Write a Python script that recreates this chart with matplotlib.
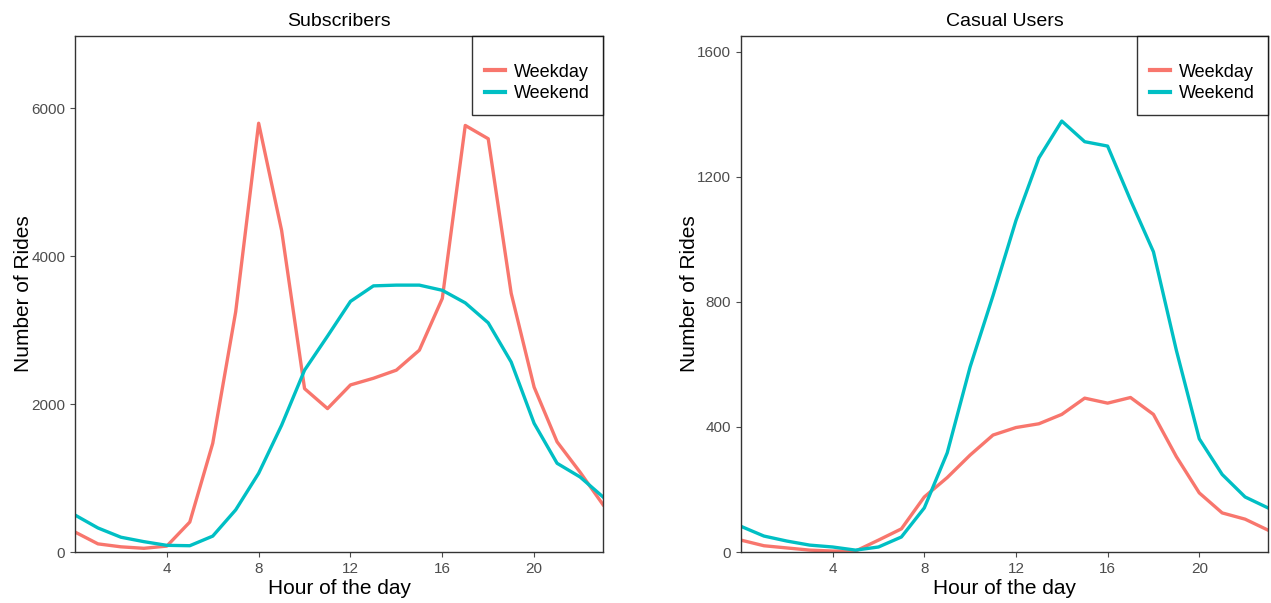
import matplotlib
matplotlib.use('Agg')
import matplotlib.pyplot as plt

plt.rcParams['font.family'] = ['Liberation Sans', 'DejaVu Sans']

hours = list(range(24))

# Subscribers: average rides per hour
sub_weekday = [270, 110, 70, 50, 80, 405, 1470, 3250, 5800, 4350, 2210, 1940,
               2260, 2350, 2460, 2730, 3430, 5770, 5590, 3500, 2230, 1490, 1080, 640]
sub_weekend = [500, 325, 200, 140, 90, 85, 215, 570, 1065, 1715, 2460, 2920,
               3390, 3600, 3610, 3610, 3540, 3370, 3100, 2570, 1740, 1200, 1015, 745]

# Casual users
cas_weekday = [38, 20, 13, 6, 3, 3, 38, 74, 176, 238, 310, 374,
               398, 410, 440, 492, 476, 494, 440, 305, 189, 125, 105, 70]
cas_weekend = [82, 51, 35, 22, 16, 6, 16, 48, 141, 317, 592, 820,
               1060, 1260, 1378, 1312, 1298, 1125, 960, 645, 362, 248, 176, 141]

series_names = ['Weekday', 'Weekend']
colors = ['#F8766D', '#00BFC4']

fig = plt.figure(figsize=(12.71, 6.03), dpi=100)
ax1 = fig.add_axes([75 / 1271, 1 - 552 / 603, 528 / 1271, 516 / 603])
ax2 = fig.add_axes([741 / 1271, 1 - 552 / 603, 527 / 1271, 516 / 603])

panels = [
    (ax1, 'Subscribers', sub_weekday, sub_weekend, 6980, [0, 2000, 4000, 6000]),
    (ax2, 'Casual Users', cas_weekday, cas_weekend, 1650, [0, 400, 800, 1200, 1600]),
]

for ax, title, wd, we, ytop, yt in panels:
    ax.plot(hours, wd, color=colors[0], lw=2.4, label=series_names[0])
    ax.plot(hours, we, color=colors[1], lw=2.4, label=series_names[1])
    ax.set_xlim(0, 23)
    ax.set_ylim(0, ytop)
    ax.set_xticks([4, 8, 12, 16, 20])
    ax.set_yticks(yt)
    ax.tick_params(colors='#4D4D4D', labelsize=11, length=3.5, width=0.8,
                   labelcolor='#4D4D4D')
    for sp in ax.spines.values():
        sp.set_color('#333333')
        sp.set_linewidth(1.0)
    ax.set_title(title, fontsize=14, pad=7)
    ax.set_xlabel('Hour of the day', fontsize=15, labelpad=2)
    ax.set_ylabel('Number of Rides', fontsize=15, labelpad=-1)
    leg = ax.legend(loc='upper right', borderaxespad=0, fancybox=False,
                    fontsize=13, title=' ', title_fontsize=7,
                    handlelength=1.1, handletextpad=0.5, labelspacing=0.25,
                    borderpad=0.72)
    leg.get_frame().set_edgecolor('black')
    leg.get_frame().set_linewidth(1.0)
    for line in leg.get_lines():
        line.set_linewidth(3)

fig.savefig('out.png', dpi=100)
